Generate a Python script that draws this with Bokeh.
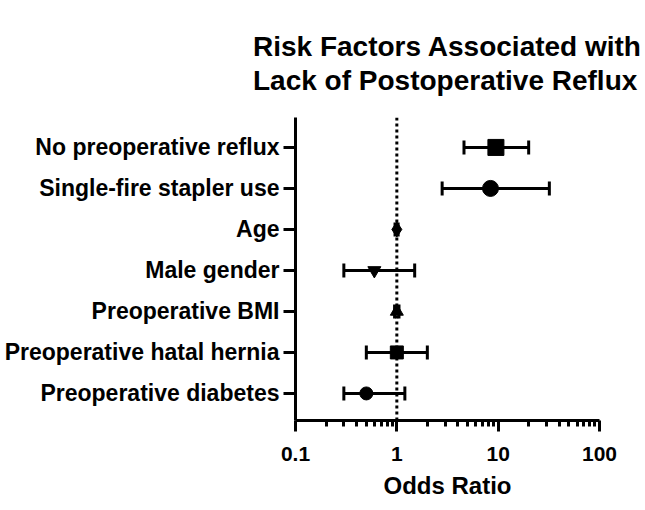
from bokeh.plotting import figure
from bokeh.models import ColumnDataSource, Span, FixedTicker, Whisker, TeeHead
from bokeh.embed import file_html
from bokeh.resources import INLINE

# Odds ratios with 95% confidence intervals
factors = [
    "No preoperative reflux",
    "Single-fire stapler use",
    "Age",
    "Male gender",
    "Preoperative BMI",
    "Preoperative hatal hernia",
    "Preoperative diabetes",
]
odds_ratio = [9.5, 8.4, 1.0, 0.6, 1.0, 1.0, 0.5]
ci_lower = [4.6, 2.8, 0.96, 0.3, 0.95, 0.5, 0.3]
ci_upper = [20.0, 32.0, 1.03, 1.5, 1.05, 2.0, 1.2]

x_ticks = [0.1, 1, 10, 100]
x_tick_labels = ["0.1", "1", "10", "100"]

# marker style per row
marker_shapes = ["square", "circle", "diamond", "inverted_triangle", "triangle", "square", "circle"]
marker_sizes = [16, 16, 15, 13, 13, 13, 13]

FONT = "Liberation Sans"
ys = list(range(len(factors), 0, -1))

src = ColumnDataSource(dict(
    y=ys, odds=odds_ratio, lo=ci_lower, hi=ci_upper,
    marker=marker_shapes, size=marker_sizes,
))

p = figure(
    width=645, height=510,
    x_axis_type="log", x_range=(0.1, 100), y_range=(0.34, 7.73),
    output_backend="svg", toolbar_location=None,
    min_border_left=295, min_border_right=46,
    min_border_top=117, min_border_bottom=90,
    title="Risk Factors Associated with\nLack of Postoperative Reflux",
)
p.outline_line_color = None
p.xgrid.visible = False
p.ygrid.visible = False
p.background_fill_color = "white"
p.border_fill_color = "white"

# two-line heading
p.title.align = "center"
p.title.vertical_align = "top"
p.title.text_font = FONT
p.title.text_font_style = "bold"
p.title.text_font_size = "28px"
p.title.text_line_height = 1.1
p.title.text_color = "black"
p.title.standoff = 40

# reference line at OR = 1
ref = Span(location=1, dimension="height", line_color="black",
           line_width=3, line_dash="3 3", level="underlay")
p.add_layout(ref)

# confidence-interval bars
wh = Whisker(
    source=src, base="y", lower="lo", upper="hi", dimension="width",
    line_color="black", line_width=3, level="underlay",
    lower_head=TeeHead(size=14, line_width=3, line_color="black"),
    upper_head=TeeHead(size=14, line_width=3, line_color="black"),
)
p.add_layout(wh)

p.scatter("odds", "y", source=src, marker="marker", size="size",
          fill_color="black", line_color="black")

# x axis
xa = p.xaxis[0]
minor = [m * 10.0 ** e for e in (-1, 0, 1) for m in range(2, 10)]
xa.ticker = FixedTicker(ticks=x_ticks, minor_ticks=minor)
xa.major_label_overrides = {t: lab for t, lab in zip(x_ticks, x_tick_labels)}
xa.axis_label = "Odds Ratio"
xa.axis_label_text_font = FONT
xa.axis_label_text_font_style = "bold"
xa.axis_label_text_font_size = "24px"
xa.axis_label_text_color = "black"
xa.axis_label_standoff = 8
xa.major_label_text_font = FONT
xa.major_label_text_font_style = "bold"
xa.major_label_text_font_size = "21px"
xa.major_label_text_color = "black"
xa.major_label_standoff = 15
xa.axis_line_width = 3
xa.major_tick_line_width = 3
xa.minor_tick_line_width = 3
xa.major_tick_out = 11
xa.major_tick_in = 0
xa.minor_tick_out = 6
xa.minor_tick_in = 0

# y axis
ya = p.yaxis[0]
ya.ticker = FixedTicker(ticks=ys)
ya.major_label_overrides = {y: f for y, f in zip(ys, factors)}
ya.major_label_text_font = FONT
ya.major_label_text_font_style = "bold"
ya.major_label_text_font_size = "23px"
ya.major_label_text_color = "black"
ya.major_label_standoff = 4
ya.axis_line_width = 3
ya.major_tick_line_width = 3
ya.major_tick_out = 12
ya.major_tick_in = 0
ya.minor_tick_line_color = None

open("out.html", "w").write(file_html(p, INLINE))
